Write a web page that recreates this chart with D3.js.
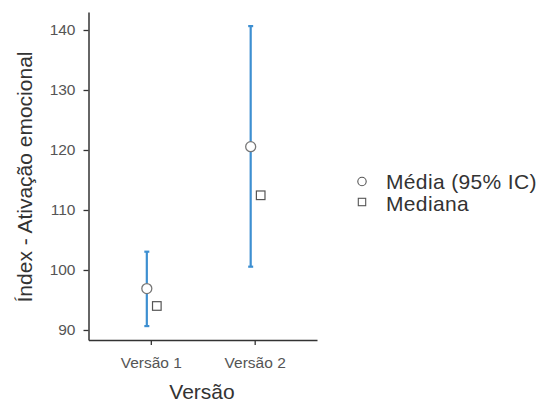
<!DOCTYPE html>
<html><head><meta charset="utf-8">
<script src="https://cdn.jsdelivr.net/npm/d3@7"></script>
<style>body{margin:0;background:#fff;} text{font-family:"Liberation Sans",Arial,sans-serif;}</style>
</head><body><svg id="c" width="539" height="404"></svg>
<script>
const categories = ["Versão 1", "Versão 2"];
const means = [96.9, 120.55];
const ciLower = [90.65, 100.55];
const ciUpper = [103.05, 140.65];
const medians = [94.0, 112.45];
const yTicks = [90, 100, 110, 120, 130, 140];
const legendLabels = ["Média (95% IC)", "Mediana"];

(function () {
const svg = d3.select("#c");
const mLeft = 88.5, mRight = 317, mTop = 12, mBottom = 340;
const x = d3.scalePoint().domain(categories).range([mLeft, mRight]).padding(0.6);
const y = d3.scaleLinear().domain([88.33, 143]).range([mBottom, mTop]);

const yAxis = svg.append("g").attr("transform", `translate(${mLeft},0)`)
  .call(d3.axisLeft(y).tickValues(yTicks).tickSize(5).tickPadding(8).tickSizeOuter(0));
const xAxis = svg.append("g").attr("transform", `translate(0,${mBottom})`)
  .call(d3.axisBottom(x).tickSize(5).tickPadding(12).tickSizeOuter(0));
[yAxis, xAxis].forEach(a => {
  a.select(".domain").attr("stroke", "#333").attr("stroke-width", 1.5);
  a.selectAll(".tick line").attr("stroke", "#333").attr("stroke-width", 1.3);
  a.selectAll(".tick text").attr("fill", "#555").attr("font-size", 15.5);
});

const col = "#3d8fd1";
const g = svg.append("g");
categories.forEach((c, i) => {
  const cx = x(c) - 4;
  g.append("line").attr("x1", cx).attr("x2", cx).attr("y1", y(ciLower[i])).attr("y2", y(ciUpper[i]))
    .attr("stroke", col).attr("stroke-width", 2.2);
  [ciLower[i], ciUpper[i]].forEach(v => g.append("line").attr("x1", cx - 2.5).attr("x2", cx + 2.5)
    .attr("y1", y(v)).attr("y2", y(v)).attr("stroke", col).attr("stroke-width", 2.2));
  g.append("circle").attr("cx", cx).attr("cy", y(means[i])).attr("r", 5)
    .attr("fill", "#fff").attr("stroke", "#777").attr("stroke-width", 1.3);
  g.append("rect").attr("x", x(c) + 6 - 4.3).attr("y", y(medians[i]) - 4.3).attr("width", 8.6).attr("height", 8.6)
    .attr("fill", "#fff").attr("stroke", "#555").attr("stroke-width", 1.2);
});

svg.append("text").attr("x", 202).attr("y", 399).attr("text-anchor", "middle")
  .attr("font-size", 21).attr("fill", "#333").text("Versão");
svg.append("text").attr("transform", "translate(31.5,177) rotate(-90)").attr("text-anchor", "middle")
  .attr("font-size", 21).attr("fill", "#333").text("Índex - Ativação emocional");

const leg = svg.append("g");
leg.append("circle").attr("cx", 362).attr("cy", 181.5).attr("r", 4.2).attr("fill", "#fff").attr("stroke", "#555").attr("stroke-width", 1.1);
leg.append("rect").attr("x", 358.3).attr("y", 198.3).attr("width", 7.4).attr("height", 7.4).attr("fill", "#fff").attr("stroke", "#555").attr("stroke-width", 1.1);
legendLabels.forEach((t, i) => leg.append("text").attr("x", 386).attr("y", 189 + i * 22)
  .attr("font-size", 21).attr("letter-spacing", 0.35).attr("fill", "#333").text(t));
})();
</script></body></html>
